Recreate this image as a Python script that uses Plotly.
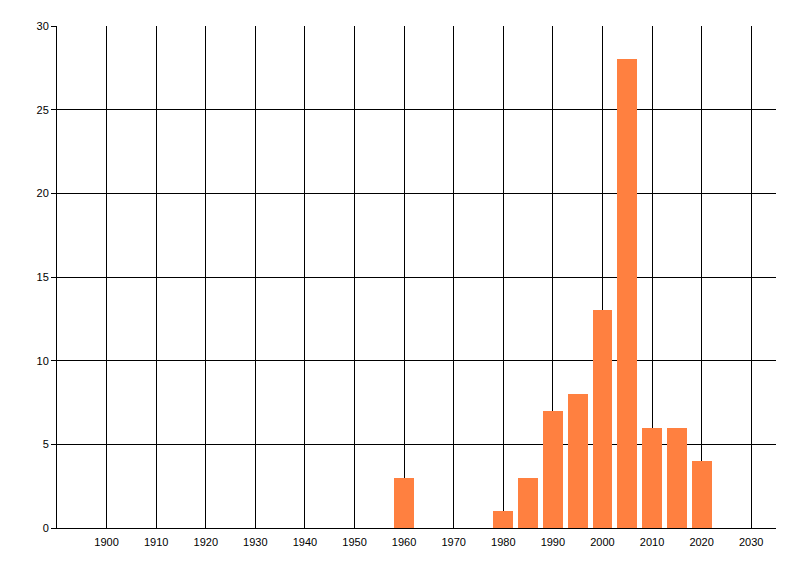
import plotly.graph_objects as go

years = [1960, 1980, 1985, 1990, 1995, 2000, 2005, 2010, 2015, 2020]
counts = [3, 1, 3, 7, 8, 13, 28, 6, 6, 4]
x_ticks = list(range(1900, 2031, 10))
y_ticks = [0, 5, 10, 15, 20, 25, 30]

fig = go.Figure(go.Bar(
    x=years, y=counts, width=4,
    marker=dict(color="#FF8040", line=dict(width=0)),
))

fig.update_layout(
    width=792, height=568,
    margin=dict(l=49, r=24, t=18, b=48),
    paper_bgcolor="white", plot_bgcolor="white",
    font=dict(family="Liberation Sans, Arial, sans-serif", size=11, color="black"),
    showlegend=False,
    bargap=0,
)
fig.update_xaxes(
    range=[1890, 2035], tickvals=x_ticks, ticktext=[str(t) for t in x_ticks],
    showgrid=True, gridcolor="black", gridwidth=1,
    showline=True, linecolor="black", linewidth=1,
    ticks="", zeroline=False, ticklabelstandoff=4,
)
fig.update_yaxes(
    range=[0, 30], tickvals=y_ticks,
    showgrid=True, gridcolor="black", gridwidth=1,
    showline=True, linecolor="black", linewidth=1,
    ticks="outside", ticklen=5, tickcolor="black", zeroline=False,
)

fig.write_html("out.html")
